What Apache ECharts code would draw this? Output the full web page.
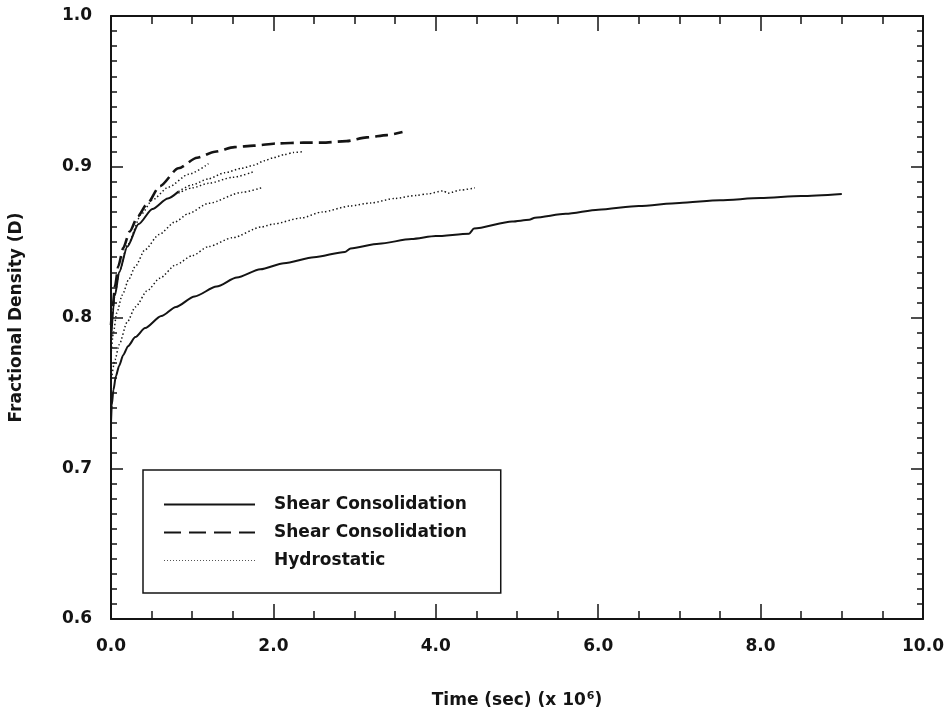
<!DOCTYPE html>
<html>
<head>
<meta charset="utf-8">
<script src="https://cdn.jsdelivr.net/npm/echarts@6/dist/echarts.min.js"></script>
<style>
  html, body { margin: 0; padding: 0; background: #ffffff; }
  #chart { width: 947px; height: 714px; }
</style>
</head>
<body>
<div id="chart"></div>
<script>
// Fractional density vs. time (x 10^6 s) for several consolidation tests.

// Shear consolidation, long test (solid)
const shearLongTime = [0.0, 0.01, 0.03, 0.06, 0.1, 0.15, 0.21, 0.3, 0.42, 0.62, 0.8, 1.03, 1.3, 1.55, 1.84, 2.13, 2.5, 2.88, 2.95, 3.3, 3.7, 4.0, 4.41, 4.47, 4.94, 5.15, 5.22, 5.6, 6.0, 6.5, 7.0, 7.5, 8.0, 8.5, 9.0];
const shearLongDensity = [0.730, 0.742, 0.752, 0.761, 0.768, 0.775, 0.781, 0.787, 0.793, 0.801, 0.807, 0.814, 0.8205, 0.8265, 0.832, 0.836, 0.840, 0.8435, 0.8458, 0.849, 0.852, 0.854, 0.8556, 0.859, 0.8637, 0.8648, 0.8662, 0.8688, 0.8715, 0.874, 0.876, 0.8778, 0.8792, 0.8806, 0.882];

// Shear consolidation, short test (solid)
const shearShortTime = [0.0, 0.05, 0.1, 0.2, 0.34, 0.51, 0.7, 0.83];
const shearShortDensity = [0.785, 0.815, 0.830, 0.847, 0.862, 0.872, 0.879, 0.8835];

// Shear consolidation (dashed)
const shearDashTime = [0.0, 0.02, 0.05, 0.09, 0.15, 0.23, 0.33, 0.44, 0.6, 0.83, 1.06, 1.28, 1.52, 1.76, 2.05, 2.37, 2.6, 2.9, 3.15, 3.4, 3.59];
const shearDashDensity = [0.795, 0.807, 0.821, 0.834, 0.846, 0.857, 0.867, 0.875, 0.887, 0.899, 0.906, 0.910, 0.913, 0.914, 0.9155, 0.916, 0.916, 0.917, 0.9195, 0.921, 0.923];

// Hydrostatic tests (dotted)
const hydroATime = [0.83, 1.0, 1.2, 1.4, 1.61, 1.76, 1.89, 2.0, 2.13, 2.25, 2.37];
const hydroADensity = [0.8835, 0.888, 0.892, 0.896, 0.899, 0.901, 0.904, 0.906, 0.908, 0.9095, 0.910];

const hydroBTime = [0.0, 0.05, 0.1, 0.2, 0.38, 0.51, 0.71, 0.955, 1.2];
const hydroBDensity = [0.790, 0.815, 0.830, 0.848, 0.869, 0.878, 0.8866, 0.895, 0.902];

const hydroCTime = [0.83, 1.0, 1.2, 1.5, 1.77];
const hydroCDensity = [0.8825, 0.886, 0.889, 0.893, 0.897];

const hydroDTime = [0.0, 0.03, 0.07, 0.14, 0.22, 0.30, 0.42, 0.59, 0.79, 0.955, 1.2, 1.61, 1.85];
const hydroDDensity = [0.775, 0.790, 0.803, 0.815, 0.8255, 0.834, 0.845, 0.855, 0.8634, 0.869, 0.8757, 0.883, 0.886];

const hydroETime = [0.0, 0.05, 0.1, 0.2, 0.3, 0.45, 0.6, 0.8, 1.0, 1.2, 1.5, 1.85, 2.0, 2.34, 2.6, 2.95, 3.2, 3.5, 3.76, 3.9, 4.09, 4.15, 4.3, 4.48];
const hydroEDensity = [0.757, 0.772, 0.782, 0.797, 0.807, 0.818, 0.826, 0.835, 0.841, 0.847, 0.853, 0.860, 0.862, 0.866, 0.870, 0.874, 0.876, 0.879, 0.881, 0.882, 0.884, 0.8825, 0.8845, 0.886];

// Axis tick labels
const xTickLabels = ['0.0', '2.0', '4.0', '6.0', '8.0', '10.0'];
const yTickLabels = ['0.6', '0.7', '0.8', '0.9', '1.0'];

// Legend entries
const legendKeys = ['shear-solid', 'shear-dashed', 'hydrostatic'];
const legendLabels = ['Shear Consolidation', 'Shear Consolidation', 'Hydrostatic'];

const zip = (xs, ys) => xs.map((x, i) => [x, ys[i]]);

const INK = '#141414';
const FONT = '"DejaVu Sans", Verdana, sans-serif';

const solidStyle = { color: INK, width: 2, type: 'solid' };
const dashStyle = { color: INK, width: 2.6, type: [13, 6] };
const dotStyle = { color: '#161616', width: 1.5, type: [1.4, 2.4] };

function curve(key, xs, ys, lineStyle) {
  return {
    name: key,
    type: 'line',
    xAxisIndex: 0,
    yAxisIndex: 0,
    data: zip(xs, ys),
    symbol: 'none',
    smooth: 0.25,
    smoothMonotone: 'x',
    lineStyle: lineStyle,
    itemStyle: { color: lineStyle.color },
    emphasis: { disabled: true },
    silent: true,
    animation: false
  };
}

const frameLine = { show: true, onZero: false, lineStyle: { color: INK, width: 2 } };
const tickStyle = { color: INK, width: 1.5 };

const chart = echarts.init(document.getElementById('chart'), null, { renderer: 'canvas' });

chart.setOption({
  backgroundColor: '#ffffff',
  animation: false,
  textStyle: { fontFamily: FONT },
  grid: { left: 106, right: 24, top: 16, bottom: 87 },
  legend: {
    orient: 'vertical',
    left: 143,
    top: 470,
    data: [
      { name: legendKeys[0] },
      { name: legendKeys[1], lineStyle: { type: [17, 8], width: 2 } },
      { name: legendKeys[2], lineStyle: { width: 1, color: '#555', type: [1, 2] } }
    ],
    formatter: (name) => legendLabels[legendKeys.indexOf(name)],
    itemWidth: 91,
    itemHeight: 14,
    itemGap: 9,
    padding: [25, 34, 23, 20],
    borderColor: INK,
    borderWidth: 1.5,
    selectedMode: false,
    itemStyle: { opacity: 0 },
    textStyle: { fontFamily: FONT, fontSize: 17, fontWeight: 'bold', color: INK, lineHeight: 19, padding: [0, 0, 0, 14] }
  },
  xAxis: [
    {
      type: 'value', position: 'bottom', min: 0, max: 10, interval: 2,
      axisLine: frameLine,
      axisTick: { show: true, inside: true, length: 15, lineStyle: tickStyle },
      minorTick: { show: true, splitNumber: 4, length: 8, lineStyle: tickStyle },
      splitLine: { show: false },
      axisLabel: {
        margin: 19, fontSize: 17, fontWeight: 'bold', color: INK, fontFamily: FONT,
        formatter: (v) => xTickLabels[Math.round(v / 2)]
      },
      name: 'Time (sec) (x 10{sup|6})',
      nameLocation: 'middle',
      nameGap: 72,
      nameTextStyle: {
        fontSize: 17, fontWeight: 'bold', color: INK, fontFamily: FONT,
        rich: { sup: { fontSize: 11, fontWeight: 'bold', color: INK, fontFamily: FONT, verticalAlign: 'top', padding: [0, 0, 8, 1] } }
      }
    },
    {
      type: 'value', position: 'top', min: 0, max: 10, interval: 2,
      axisLine: frameLine,
      axisTick: { show: true, inside: true, length: 15, lineStyle: tickStyle },
      minorTick: { show: true, splitNumber: 4, length: 8, lineStyle: tickStyle },
      splitLine: { show: false },
      axisLabel: { show: false }
    }
  ],
  yAxis: [
    {
      type: 'value', position: 'left', min: 0.6, max: 1.0, interval: 0.1,
      axisLine: frameLine,
      axisTick: { show: true, inside: true, length: 12, lineStyle: tickStyle },
      minorTick: { show: true, splitNumber: 10, length: 6, lineStyle: tickStyle },
      splitLine: { show: false },
      axisLabel: {
        margin: 19, fontSize: 17, fontWeight: 'bold', color: INK, fontFamily: FONT,
        formatter: (v) => yTickLabels[Math.round((v - 0.6) / 0.1)]
      },
      name: 'Fractional Density (D)',
      nameLocation: 'middle',
      nameGap: 86,
      nameTextStyle: { fontSize: 17, fontWeight: 'bold', color: INK, fontFamily: FONT }
    },
    {
      type: 'value', position: 'right', min: 0.6, max: 1.0, interval: 0.1,
      axisLine: frameLine,
      axisTick: { show: true, inside: true, length: 12, lineStyle: tickStyle },
      minorTick: { show: true, splitNumber: 10, length: 6, lineStyle: tickStyle },
      splitLine: { show: false },
      axisLabel: { show: false }
    }
  ],
  series: [
    curve('shear-solid', shearLongTime, shearLongDensity, solidStyle),
    curve('shear-solid', shearShortTime, shearShortDensity, solidStyle),
    curve('shear-dashed', shearDashTime, shearDashDensity, dashStyle),
    curve('hydrostatic', hydroATime, hydroADensity, dotStyle),
    curve('hydrostatic', hydroBTime, hydroBDensity, dotStyle),
    curve('hydrostatic', hydroCTime, hydroCDensity, dotStyle),
    curve('hydrostatic', hydroDTime, hydroDDensity, dotStyle),
    curve('hydrostatic', hydroETime, hydroEDensity, dotStyle)
  ]
});
</script>
</body>
</html>
